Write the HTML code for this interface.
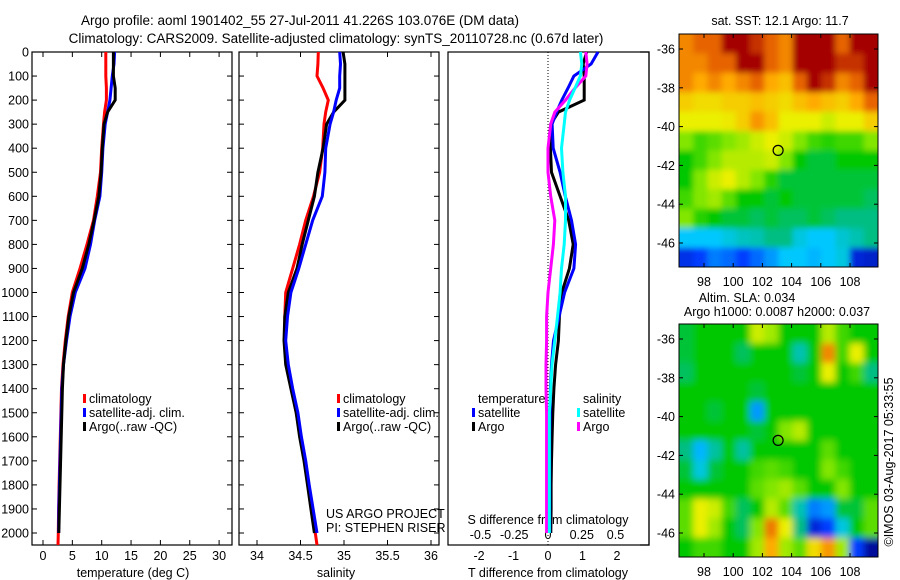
<!DOCTYPE html>
<html><head><meta charset="utf-8"><style>
body{margin:0;background:#fff}
svg{display:block;font-family:"Liberation Sans",sans-serif}
text{font-size:12.5px;fill:#000}
</style></head><body>
<svg id="c" width="900" height="580" viewBox="0 0 900 580">
<defs>
<filter id="blurA" x="-5%" y="-5%" width="110%" height="110%"><feGaussianBlur stdDeviation="3"/></filter>
<filter id="blurB" x="-5%" y="-5%" width="110%" height="110%"><feGaussianBlur stdDeviation="3.5"/></filter>
<clipPath id="clipA"><rect x="679" y="34" width="199" height="233"/></clipPath>
<clipPath id="clipB"><rect x="679" y="324" width="199" height="233"/></clipPath>
</defs>
<g>
<text x="300" y="25" text-anchor="middle" style="font-size:13.5px">Argo profile: aoml 1901402_55 27-Jul-2011 41.226S 103.076E (DM data)</text>
<text x="336" y="43" text-anchor="middle" style="font-size:13.5px">Climatology: CARS2009. Satellite-adjusted climatology: synTS_20110728.nc (0.67d later)</text>
</g>
<g id="g"></g>
</svg>
<script>
const depths=[0,50,100,150,200,250,300,400,500,600,700,800,900,1000,1100,1200,1300,1400,1500,1600,1700,1800,1900,2000,2050];
const tClim=[10.7,10.7,10.7,10.8,10.8,10.5,10.3,10.0,9.8,9.25,8.6,7.5,6.3,5.0,4.3,3.8,3.4,3.15,3.05,2.95,2.85,2.75,2.65,2.6,2.55];
const tSat=[12.2,12.1,11.8,11.6,11.4,11.0,10.6,10.2,10.0,9.7,8.8,8.1,7.15,5.5,4.6,4.0,3.5,3.2,3.1,3.0,2.9,2.8,2.7,2.65,null];
const tArgo=[12.0,12.0,12.0,12.3,12.3,11.0,10.4,10.1,9.9,9.5,8.7,7.8,6.7,5.2,4.4,3.9,3.5,3.3,3.2,3.1,3.0,2.9,2.8,2.7,null];
const sClim=[34.705,34.7,34.69,34.76,34.82,34.79,34.77,34.755,34.72,34.65,34.56,34.49,34.41,34.33,34.32,34.32,34.35,34.4,34.45,34.5,34.55,34.59,34.63,34.67,34.69];
const sSat=[34.95,34.96,34.95,34.95,34.91,34.88,34.84,34.79,34.78,34.75,34.64,34.56,34.48,34.39,34.35,34.33,34.36,34.41,34.47,34.51,34.56,34.6,34.645,34.69,null];
const sArgo=[34.99,35.01,35.01,35.01,35.01,34.88,34.8,34.76,34.7,34.66,34.59,34.52,34.46,34.36,34.32,34.31,34.33,34.39,34.45,34.49,34.54,34.58,34.62,34.66,null];
const dDepths=[0,50,100,150,200,250,300,400,500,600,700,800,900,1000,1100,1200,1300,1400,1500,1600,1700,1800,1900,2000];
const dTSat=[1.45,1.25,0.75,0.58,0.4,0.25,0.12,0.15,0.35,0.5,0.68,0.8,0.75,0.48,0.32,0.16,0.1,0.07,0.06,0.05,0.05,0.05,0.05,0.05];
const dTArgo=[1.12,1.02,1.05,1.05,1.05,0.3,0.08,0.07,0.1,0.35,0.6,0.73,0.62,0.4,0.33,0.3,0.22,0.17,0.14,0.12,0.1,0.09,0.09,0.08];
const dSSat=[0.24,0.25,0.24,0.2,0.16,0.13,0.12,0.1,0.11,0.13,0.13,0.12,0.1,0.09,0.07,0.05,0.03,0.02,0.01,0.01,0.01,0.01,0.01,0.01];
const dSArgo=[0.28,0.29,0.28,0.2,0.13,0.05,0.02,0.0,0.0,0.02,0.05,0.04,0.02,0.0,-0.01,-0.01,-0.015,-0.015,-0.01,-0.01,-0.01,-0.01,-0.01,-0.01];
const depthTicks=[0,100,200,300,400,500,600,700,800,900,1000,1100,1200,1300,1400,1500,1600,1700,1800,1900,2000];
const tTicks=[0,5,10,15,20,25,30];
const sTicks=[34,34.5,35,35.5,36];
const dtTicks=[-2,-1,0,1,2];
const dsTicks=[-0.5,-0.25,0,0.25,0.5];
const sstGrid=[
[0.8,0.85,0.85,0.95,0.95,0.9,0.85,0.8,0.95,0.95,0.95,0.85,0.95,0.95],
[0.8,0.8,0.85,0.85,0.95,0.95,0.85,0.8,0.95,0.95,0.95,0.9,0.9,0.95],
[0.8,0.75,0.8,0.75,0.8,0.85,0.75,0.72,0.85,0.95,0.9,0.8,0.85,0.95],
[0.7,0.68,0.68,0.7,0.7,0.72,0.7,0.68,0.72,0.75,0.72,0.7,0.75,0.85],
[0.65,0.65,0.65,0.66,0.7,0.78,0.72,0.65,0.65,0.65,0.62,0.65,0.65,0.7],
[0.55,0.5,0.52,0.55,0.58,0.62,0.65,0.62,0.55,0.5,0.48,0.5,0.5,0.55],
[0.45,0.5,0.55,0.6,0.6,0.6,0.62,0.55,0.45,0.42,0.42,0.45,0.45,0.45],
[0.45,0.55,0.62,0.65,0.6,0.55,0.48,0.42,0.42,0.42,0.42,0.42,0.42,0.42],
[0.5,0.55,0.58,0.52,0.45,0.45,0.42,0.45,0.42,0.42,0.42,0.42,0.42,0.4],
[0.55,0.48,0.45,0.42,0.42,0.4,0.42,0.4,0.4,0.42,0.4,0.38,0.38,0.38],
[0.3,0.3,0.3,0.32,0.34,0.35,0.38,0.38,0.32,0.3,0.3,0.33,0.35,0.38],
[0.12,0.15,0.22,0.2,0.15,0.2,0.25,0.3,0.3,0.28,0.3,0.32,0.1,0.08]];
const slaGrid=[
[0.42,0.45,0.45,0.45,0.45,0.62,0.58,0.45,0.45,0.45,0.6,0.5,0.45,0.45],
[0.42,0.45,0.45,0.45,0.4,0.45,0.45,0.45,0.35,0.45,0.8,0.5,0.65,0.45],
[0.4,0.45,0.45,0.45,0.45,0.45,0.45,0.45,0.42,0.45,0.65,0.45,0.5,0.38],
[0.45,0.45,0.45,0.45,0.45,0.42,0.45,0.45,0.45,0.45,0.45,0.45,0.45,0.45],
[0.45,0.45,0.42,0.45,0.45,0.25,0.45,0.45,0.45,0.45,0.45,0.45,0.45,0.45],
[0.45,0.45,0.45,0.45,0.45,0.42,0.45,0.55,0.6,0.45,0.45,0.45,0.45,0.45],
[0.38,0.28,0.36,0.45,0.36,0.45,0.45,0.45,0.45,0.45,0.52,0.45,0.45,0.45],
[0.42,0.32,0.42,0.45,0.45,0.5,0.52,0.5,0.45,0.45,0.55,0.5,0.45,0.45],
[0.45,0.45,0.45,0.45,0.45,0.52,0.55,0.58,0.52,0.45,0.45,0.55,0.45,0.45],
[0.52,0.65,0.62,0.5,0.4,0.45,0.6,0.52,0.35,0.22,0.25,0.42,0.42,0.52],
[0.52,0.65,0.58,0.45,0.4,0.55,0.82,0.65,0.38,0.1,0.15,0.32,0.45,0.52],
[0.45,0.5,0.5,0.45,0.45,0.58,0.75,0.58,0.52,0.68,0.78,0.58,0.15,0.02]];
const lonTicks=[98,100,102,104,106,108];
const latTicks=[-36,-38,-40,-42,-44,-46];
const floatLon=103.076, floatLat=-41.226;

const NS='http://www.w3.org/2000/svg';
const G=document.getElementById('g');
function mk(tag,at,parent){const e=document.createElementNS(NS,tag);for(const k in at)e.setAttribute(k,at[k]);(parent||G).appendChild(e);return e;}
function txt(x,y,s,anchor,parent){const t=mk('text',{x:x,y:y,'text-anchor':anchor||'middle'},parent);t.textContent=s;return t;}
const Y=d=>52+0.2405*d;
const xT=t=>43+5.87*t;
const xS=s=>257+(s-34)*87;
const xDT=t=>548+34.5*t;
const xDS=s=>548+135*s;
const TOP=52,BOT=545;

function frame(x0,x1,name){
  const r=mk('rect',{x:x0,y:TOP,width:x1-x0,height:BOT-TOP,fill:'none',stroke:'#000','stroke-width':1.2});
  
  
}
function series(xs,ds,xf,color,name){
  const pts=[];
  ds.forEach((d,i)=>{if(xs[i]!==null&&xs[i]!==undefined)pts.push(xf(xs[i]).toFixed(1)+','+Y(d).toFixed(1));});
  const p=mk('polyline',{points:pts.join(' '),fill:'none',stroke:color,'stroke-width':3,'stroke-linejoin':'miter'});
  
  
}
frame(32,232,'temperature-panel');
frame(239,439,'salinity-panel');
frame(448,649,'difference-panel');
const dax=mk('g',{});


depthTicks.forEach(d=>{
  const y=Y(d);
  txt(29,y+4.5,String(d),'end',dax);
  [[32,37],[227,232],[239,244],[434,439]].forEach(a=>mk('line',{x1:a[0],x2:a[1],y1:y,y2:y,stroke:'#000'},dax));
});
const tax=mk('g',{});


tTicks.forEach(t=>{const x=xT(t);txt(x,560,String(t),'middle',tax);mk('line',{x1:x,x2:x,y1:TOP,y2:TOP+5,stroke:'#000'},tax);mk('line',{x1:x,x2:x,y1:BOT-5,y2:BOT,stroke:'#000'},tax);});
txt(133,577,'temperature (deg C)','middle',tax);
const sax=mk('g',{});


sTicks.forEach(s=>{const x=xS(s);txt(x,560,String(s),'middle',sax);mk('line',{x1:x,x2:x,y1:TOP,y2:TOP+5,stroke:'#000'},sax);mk('line',{x1:x,x2:x,y1:BOT-5,y2:BOT,stroke:'#000'},sax);});
txt(336,577,'salinity','middle',sax);
const dxa=mk('g',{});


dtTicks.forEach(t=>txt(xDT(t),560,String(t),'middle',dxa));
dsTicks.forEach(s=>txt(xDS(s),539,String(s),'middle',dxa));
txt(548,577,'T difference from climatology','middle',dxa);
txt(548,524,'S difference from climatology','middle',dxa);
const zl=mk('line',{x1:548,x2:548,y1:TOP,y2:BOT,stroke:'#000','stroke-dasharray':'1,2'});


series(tClim,depths,xT,'#f00','temp-climatology-line');
series(tSat,depths,xT,'#00f','temp-satellite-line');
series(tArgo,depths,xT,'#000','temp-argo-line');
series(sClim,depths,xS,'#f00','sal-climatology-line');
series(sArgo,depths,xS,'#000','sal-argo-line');
series(sSat,depths,xS,'#00f','sal-satellite-line');
series(dTArgo,dDepths,xDT,'#000','dt-argo-line');
series(dTSat,dDepths,xDT,'#00f','dt-satellite-line');
series(dSArgo,dDepths,xDS,'#f0f','ds-argo-line');
series(dSSat,dDepths,xDS,'#0ff','ds-satellite-line');
function legend(x,y,items,name){
  const g=mk('g',{});
  
  
  items.forEach((it,i)=>{
    const yy=y+i*14;
    if(it[0])mk('rect',{x:x,y:yy-9,width:3,height:9,fill:it[0]},g);
    txt(x+6,yy,it[1],'start',g);
  });
}
legend(83,403,[['#f00','climatology'],['#00f','satellite-adj. clim.'],['#000','Argo(..raw -QC)']],'temperature-legend');
legend(337,403,[['#f00','climatology'],['#00f','satellite-adj. clim.'],['#000','Argo(..raw -QC)']],'salinity-legend');
legend(472,403,[[null,'temperature'],['#00f','satellite'],['#000','Argo']],'dt-legend');
legend(577,403,[[null,'salinity'],['#0ff','satellite'],['#f0f','Argo']],'ds-legend');
const pi=mk('g',{});


txt(326,518,'US ARGO PROJECT','start',pi);
txt(326,532,'PI: STEPHEN RISER','start',pi);
mk('polyline',{points:'640,52 649,52 649,545 640,545',fill:'none',stroke:'#000','stroke-width':1.2});

const stops=[[0,[0,0,140]],[0.15,[0,60,255]],[0.3,[0,200,255]],[0.38,[0,190,130]],[0.45,[0,200,0]],[0.55,[130,230,0]],[0.65,[235,240,0]],[0.75,[255,170,0]],[0.85,[230,100,0]],[0.95,[165,0,0]],[1,[140,0,0]]];
function cmap(v){for(let i=1;i<stops.length;i++){if(v<=stops[i][0]){const a=stops[i-1],b=stops[i],f=(v-a[0])/(b[0]-a[0]);return 'rgb('+a[1].map((c,k)=>Math.round(c+(b[1][k]-c)*f)).join(',')+')';}}return 'rgb(140,0,0)';}
function map(y0,grid,name,blur,clip){
  const x0=679,x1=878,y1=y0+233;
  const lon=l=>704+(l-98)*14.6;
  const lat=l=>y0+15+(-36-l)*19.4;
  const g=mk('g',{});
  
  
  const cg=mk('g',{'clip-path':'url(#'+clip+')'},g);
  const bg=mk('g',{filter:'url(#'+blur+')'},cg);
  const rows=grid.length,cols=grid[0].length,cw=(x1-x0)/cols,ch=(y1-y0)/rows;
  grid.forEach((row,r)=>row.forEach((v,c)=>{
    let x=x0+c*cw,y=y0+r*ch,w=cw+0.6,h=ch+0.6;
    if(c===0){x-=12;w+=12;} if(c===cols-1){w+=12;}
    if(r===0){y-=12;h+=12;} if(r===rows-1){h+=12;}
    const cell=mk('rect',{x:x.toFixed(2),y:y.toFixed(2),width:w.toFixed(2),height:h.toFixed(2),fill:cmap(v)},bg);
    
    
  }));
  mk('rect',{x:x0,y:y0,width:x1-x0,height:y1-y0,fill:'none',stroke:'#000','stroke-width':1},g);
  lonTicks.forEach(l=>{const x=lon(l);txt(x,y1+19,String(l),'middle',g);mk('line',{x1:x,x2:x,y1:y0,y2:y0+4,stroke:'#000'},g);mk('line',{x1:x,x2:x,y1:y1-4,y2:y1,stroke:'#000'},g);});
  latTicks.forEach(l=>{const y=lat(l);txt(675,y+4.5,String(l),'end',g);mk('line',{x1:x0,x2:x0+4,y1:y,y2:y,stroke:'#000'},g);mk('line',{x1:x1-4,x2:x1,y1:y,y2:y,stroke:'#000'},g);});
  const c=mk('circle',{cx:lon(floatLon),cy:lat(floatLat),r:5,fill:'none',stroke:'#000','stroke-width':1.2},g);
  
  
}
map(34,sstGrid,'sst-map','blurA','clipA');
map(324,slaGrid,'sla-map','blurB','clipB');
const mt=mk('g',{});


txt(780,25,'sat. SST: 12.1 Argo: 11.7','middle',mt);
txt(747,302,'Altim. SLA: 0.034','middle',mt);
txt(777,316,'Argo h1000: 0.0087 h2000: 0.037','middle',mt);
const ts=mk('text',{x:0,y:0,'text-anchor':'middle',transform:'translate(893,462) rotate(-90)'});
ts.textContent='©IMOS 03-Aug-2017 05:33:55';


</script>
</body></html>
